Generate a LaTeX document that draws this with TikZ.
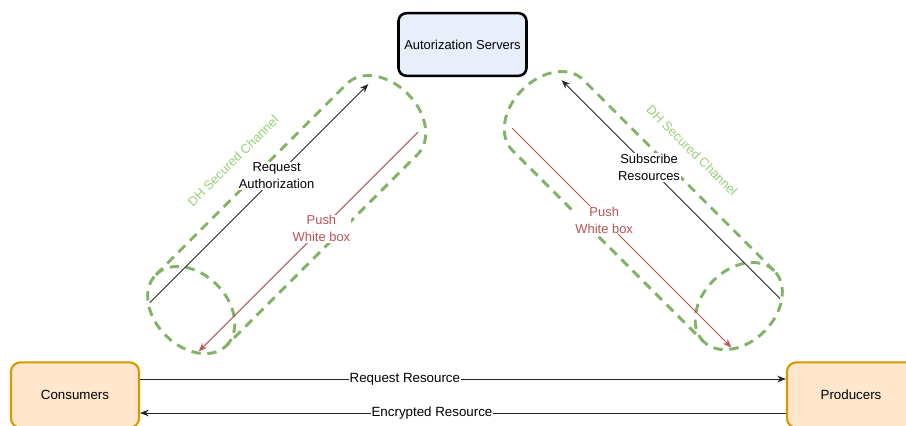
\documentclass[tikz,border=0pt]{standalone}
\usepackage{fontspec}
\setsansfont{Liberation Sans}
\usetikzlibrary{arrows.meta}

\definecolor{authblue}{HTML}{E8EFFB}
\definecolor{partyfill}{HTML}{FFE6CC}
\definecolor{partyline}{HTML}{D79B00}
\definecolor{chgreen}{HTML}{82B366}
\definecolor{chtext}{HTML}{97D077}
\definecolor{pushred}{HTML}{B85450}

\begin{document}
\begin{tikzpicture}[
  x=0.75pt, y=-0.75pt,
  font=\sffamily\fontsize{9.7}{12.5}\selectfont,
  server/.style={draw=black, line width=1.9pt, fill=authblue, rounded corners=6pt,
    minimum width=96pt, minimum height=47pt, inner sep=2pt},
  party/.style={draw=partyline, line width=1.6pt, fill=partyfill, rounded corners=7pt,
    minimum width=96pt, minimum height=49pt, inner sep=2pt,
    font=\sffamily\fontsize{10}{12}\selectfont},
  channel/.style={draw=chgreen, line width=2.2pt, dash pattern=on 7pt off 5pt},
  flow/.style={-{Stealth[length=6.5pt, width=5pt]}, line width=0.7pt, draw=black!85},
  push/.style={flow, draw=pushred},
  tag/.style={fill=white, inner sep=0.8pt, align=center},
  chlabel/.style={text=chtext, inner sep=1pt}
]
\useasboundingbox (0,0) rectangle (906,425);

% --- the three parties ---
\node[server] (auth) at (462.5,44.5) {Autorization Servers};
\node[party] (cons) at (75,395) {Consumers};
\node[party] (prod) at (851,395) {Producers};

% --- left secured channel (consumers side) ---
\begin{scope}[shift={(286.7,214.6)}, rotate=45]
  \draw[channel] (-135,-50) -- (135,-50) arc[start angle=-90, end angle=90, x radius=36, y radius=50]
    -- (-135,50) arc[start angle=90, end angle=270, x radius=36, y radius=50];
  \draw[channel] (-135,-50) arc[start angle=-90, end angle=90, x radius=36, y radius=50];
  \node[chlabel, rotate=45] (dhl) at (0,-76) {DH Secured Channel};
  \coordinate (reqA) at (-159,-34.5);
  \coordinate (reqB) at (150,-34.5);
  \coordinate (pushlA) at (151,34.5);
  \coordinate (pushlB) at (-159,34.5);
\end{scope}

% --- right secured channel (producers side), mirrored ---
\begin{scope}[shift={(643.3,210.6)}, xscale=-1, rotate=45]
  \draw[channel] (-135,-50) -- (135,-50) arc[start angle=-90, end angle=90, x radius=36, y radius=50]
    -- (-135,50) arc[start angle=90, end angle=270, x radius=36, y radius=50];
  \draw[channel] (-135,-50) arc[start angle=-90, end angle=90, x radius=36, y radius=50];
  \node[chlabel, rotate=-45] (dhr) at (8,-77) {DH Secured Channel};
  \coordinate (subA) at (-159,-34.5);
  \coordinate (subB) at (150,-34.5);
  \coordinate (pushrA) at (151,34.5);
  \coordinate (pushrB) at (-159,34.5);
\end{scope}

% messages inside the channels
\draw[flow] (reqA) -- node[tag, pos=0.58] {Request\\Authorization} (reqB);
\draw[push] (pushlA) -- node[tag, text=pushred, pos=0.44] {Push\\White box} (pushlB);
\draw[flow] (subA) -- node[tag, pos=0.6] {Subscribe\\Resources} (subB);
\draw[push] (pushrA) -- node[tag, text=pushred, pos=0.42] {Push\\White box} (pushrB);

% resource exchange at the bottom
\draw[flow] ([yshift=12pt]cons.east) -- node[tag, pos=0.41, font=\sffamily\fontsize{10}{12}\selectfont] {Request Resource} ([yshift=12pt]prod.west);
\draw[flow] ([yshift=-13.5pt]prod.west) -- node[tag, pos=0.548, font=\sffamily\fontsize{10}{12}\selectfont] {Encrypted Resource} ([yshift=-13.5pt]cons.east);

\end{tikzpicture}
\end{document}
